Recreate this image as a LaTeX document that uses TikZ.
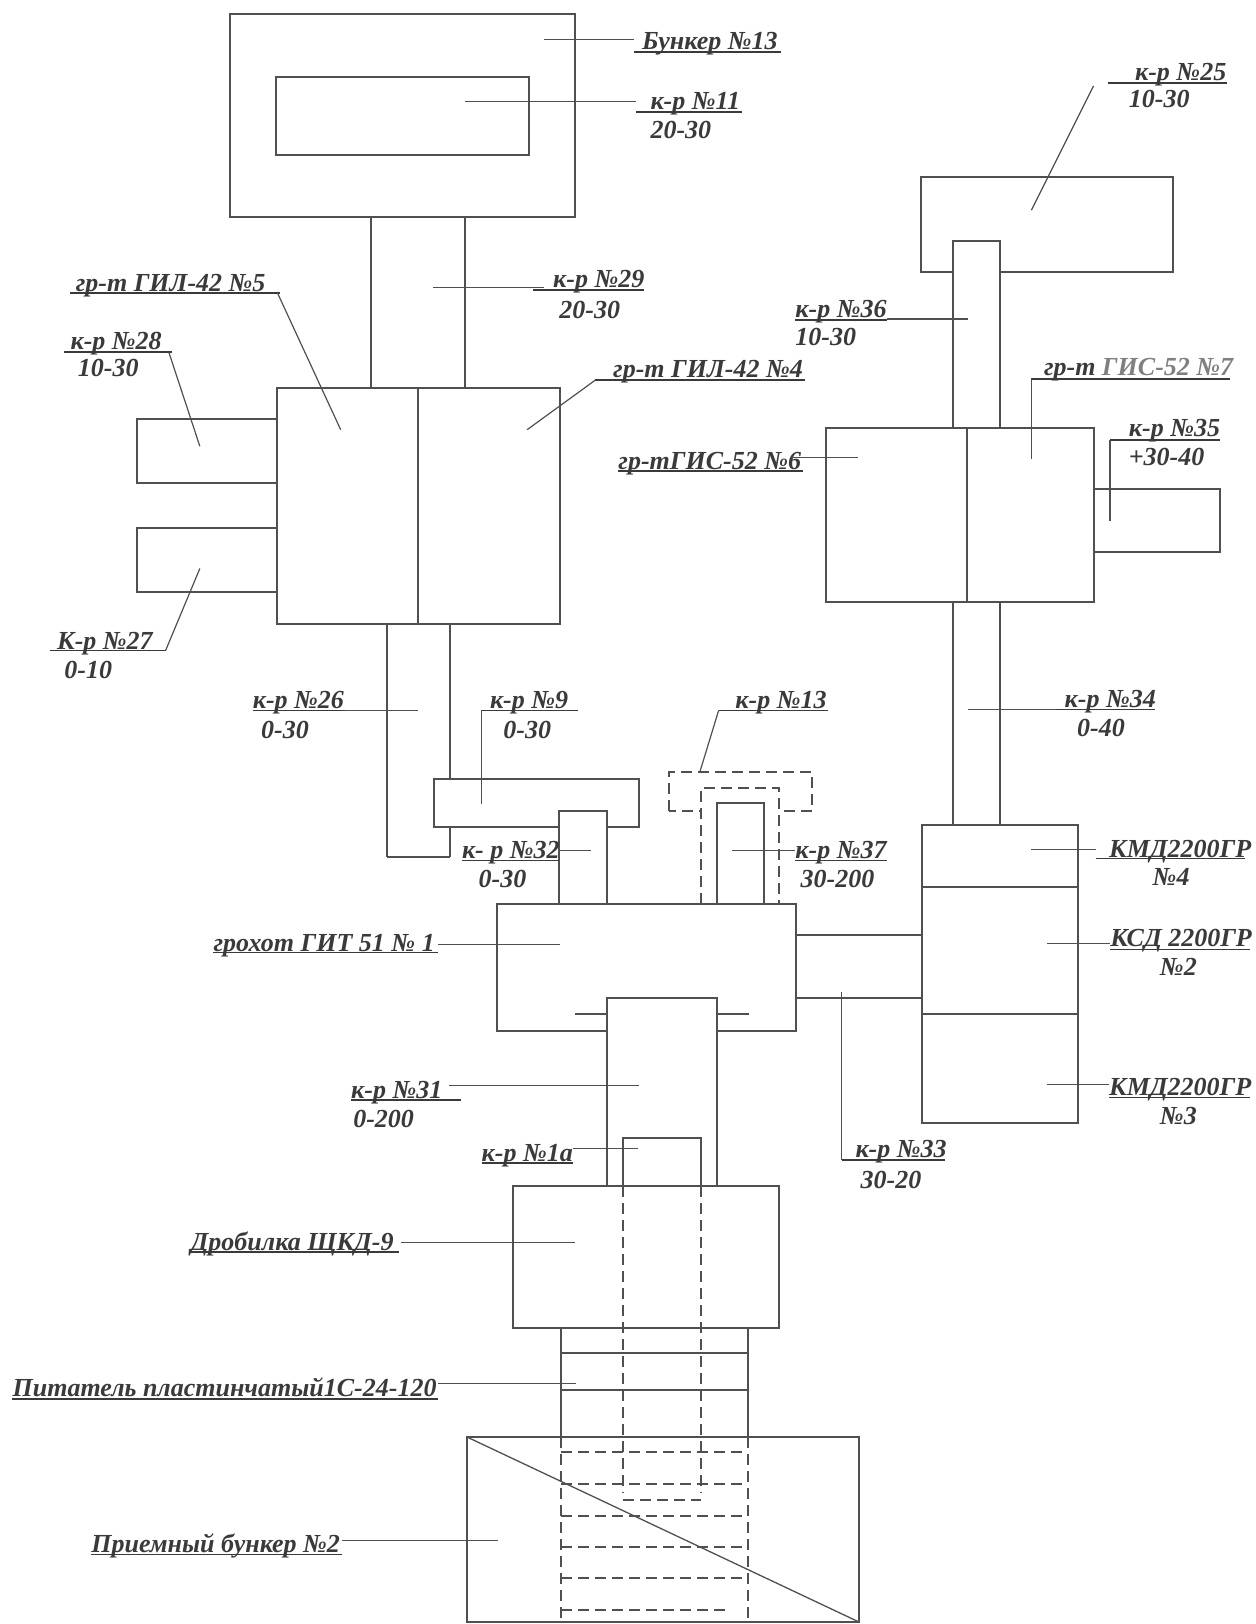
\documentclass[tikz,border=0pt]{standalone}
\usepackage{fontspec}
\setmainfont{Liberation Serif}
\usetikzlibrary{calc}
\definecolor{ink}{HTML}{505050}
\definecolor{txt}{HTML}{3A3A3A}
\tikzset{
 bx/.style={draw=ink,line width=1.3pt,fill=white,inner sep=0,outer sep=0,rectangle},
 lne/.style={draw=ink,line width=1.3pt},
 dsh/.style={draw=ink,line width=1.1pt,dash pattern=on 11pt off 6pt},
 lab/.style={anchor=base west,inner sep=0,yshift=-2pt,text=txt,font=\fontsize{26}{26}\selectfont\bfseries\itshape},
 ldr/.style={draw=ink,line width=1.2pt},
 ul/.style={draw=txt,line width=1.6pt}
}
% box from corner to corner
\newcommand\bxx[5]{\pgfmathsetmacro\bw{#4-#2}\pgfmathsetmacro\bh{#5-#3}%
 \node[bx,anchor=north west,minimum width=\bw pt,minimum height=\bh pt] (#1) at (#2,#3) {};}
% segment between named coordinates
\newcommand\sg[4][lne]{\coordinate (#2a) at #3;\coordinate (#2b) at #4;\draw[#1] (#2a) -- (#2b);}
% label: name, x, baseline, text, underline x1, x2, uy
\newcommand\lb[7]{\node[lab] (#1) at (#2,#3) {#4};\sg[ul]{#1u}{(#5,#7)}{(#6,#7)}}
\newcommand\lbb[4]{\node[lab] (#1) at (#2,#3) {#4};}
\begin{document}
\begin{tikzpicture}[x=1pt,y=-1pt]
\useasboundingbox (0,0) rectangle (1255,1624);
\fill[white] (0,0) rectangle (1255,1624);
% top bunker and conveyor 29
\bxx{bunker}{230}{14}{575}{217}
\bxx{inner}{276}{77}{529}{155}
\sg{c29l}{(371,217)}{(371,388)}
\sg{c29r}{(465,217)}{(465,388)}
% GIL screens
\bxx{boxa}{137}{419}{277}{483}
\bxx{boxb}{137}{528}{277}{592}
\bxx{gil}{277}{388}{560}{624}
\sg{gild}{(418,388)}{(418,624)}
% conveyor 26
\sg{c26l}{(387,624)}{(387,857)}
\sg{c26r}{(450,624)}{(450,857)}
\sg{c26b}{(387,857)}{(450,857)}
\bxx{b9}{434}{779}{639}{827}
\bxx{c32}{559}{811}{607}{904}
% conveyor 13 / 37 dashed
\draw[dsh] (669,811) rectangle (812,772);
\draw[dsh,fill=white] (701,904) -- (701,788) -- (779,788) -- (779,904);
\bxx{c37}{717}{803}{764}{904}
% GIT screen
\bxx{git}{497}{904}{796}{1031}
\sg{tkl}{(575,1014)}{(607,1014)}
\sg{tkr}{(717,1014)}{(749,1014)}
\bxx{c31}{607}{998}{717}{1186}
\sg{lnk}{(796,935)}{(922,935)}
\sg{lnkb}{(796,998)}{(922,998)}
% crushers
\bxx{ksd}{922}{825}{1078}{1123}
\sg{ksa}{(922,887)}{(1078,887)}
\sg{ksb}{(922,1014)}{(1078,1014)}
% right column
\sg{c34l}{(953,602)}{(953,825)}
\sg{c34r}{(1000,602)}{(1000,825)}
\bxx{b35}{1094}{489}{1220}{552}
\bxx{gis}{826}{428}{1094}{602}
\sg{gisd}{(967,428)}{(967,602)}
\bxx{b25}{921}{177}{1173}{272}
\bxx{c36}{953}{241}{1000}{428}
% jaw crusher, feeder, bunker
\bxx{c1a}{623}{1138}{701}{1186}
\bxx{jaw}{513}{1186}{779}{1328}
\sg{fl}{(561,1328)}{(561,1437)}
\sg{fr}{(748,1328)}{(748,1437)}
\sg{fa}{(561,1353)}{(748,1353)}
\sg{fb}{(561,1390)}{(748,1390)}
\bxx{rec}{467}{1437}{859}{1622}
\coordinate (diag1) at (467,1437);\coordinate (diag2) at (859,1622);
\draw[lne] (diag1) -- (diag2);
\sg[dsh]{dv1}{(561,1437)}{(561,1622)}
\sg[dsh]{dv2}{(748,1437)}{(748,1622)}
\sg[dsh]{dh1}{(561,1452)}{(748,1452)}
\sg[dsh]{dh2}{(561,1484)}{(748,1484)}
\sg[dsh]{dh3}{(561,1516)}{(748,1516)}
\sg[dsh]{dh4}{(561,1547)}{(748,1547)}
\sg[dsh]{dh5}{(561,1578)}{(748,1578)}
\sg[dsh]{dh6}{(561,1610)}{(729,1610)}
\draw[dsh] (623,1186) -- (623,1493);
\draw[dsh] (701,1186) -- (701,1493);
\sg[dsh]{d1ab}{(623,1500)}{(701,1500)}
\begin{scope}[x=1.0355pt,y=-1.0355pt]
\lb{t1}{620}{46}{Бункер №13}{612}{754}{50}
\sg[ldr]{l1}{(525,38)}{(612,38)}
\lb{t2}{628}{104}{к-р №11}{614}{717}{108}
\lbb{t2b}{628}{132}{20-30}
\sg[ldr]{l2}{(449,98)}{(614,98)}
\lb{t3}{1096}{76}{к-р №25}{1070}{1185}{80}
\lbb{t3b}{1090}{102}{10-30}
\sg[ldr]{l3}{(1056,83)}{(996,203)}
\lb{t4}{534}{276}{к-р №29}{515}{622}{280}
\lbb{t4b}{540}{306}{20-30}
\sg[ldr]{l4}{(418,278)}{(525,278)}
\lb{t5}{73}{280}{гр-т ГИЛ-42 №5}{68}{270}{283}
\sg[ldr]{l5}{(268,283)}{(329,415)}
\lb{t6}{68}{336}{к-р №28}{62}{166}{340}
\lbb{t6b}{75}{362}{10-30}
\sg[ldr]{l6}{(163,340)}{(193,431)}
\lb{t7}{592}{363}{гр-т ГИЛ-42 №4}{575}{777}{367}
\sg[ldr]{l7}{(575,367)}{(509,415)}
\lb{t8}{768}{305}{к-р №36}{768}{857}{309}
\lbb{t8b}{768}{332}{10-30}
\sg[ldr]{l8}{(857,308)}{(935,308)}
\node[lab] (t9) at (1008,361) {гр-т {\color{gray}ГИС-52 №7}};
\sg[ul]{t9u}{(996,366)}{(1188,366)}
\sg[ldr]{l9}{(996,366)}{(996,443)}
\lb{t10}{1090}{420}{к-р №35}{1072}{1178}{425}
\lbb{t10b}{1090}{448}{+30-40}
\sg[ldr]{l10}{(1072,425)}{(1072,503)}
\lb{t11}{597}{451}{гр-тГИС-52 №6}{597}{775}{455}
\sg[ldr]{l11}{(763,442)}{(829,442)}
\lb{t12}{55}{625}{К-р №27}{48}{160}{628}
\lbb{t12b}{62}{653}{0-10}
\sg[ldr]{l12}{(160,628)}{(193,549)}
\lb{t13}{244}{682}{к-р №26}{244}{333}{686}
\lbb{t13b}{252}{711}{0-30}
\sg[ldr]{l13}{(333,686)}{(404,686)}
\lb{t14}{473}{682}{к-р №9}{465}{558}{686}
\lbb{t14b}{486}{711}{0-30}
\sg[ldr]{l14}{(465,686)}{(465,776)}
\lb{t15}{710}{682}{к-р №13}{694}{800}{686}
\sg[ldr]{l15}{(694,686)}{(676,745)}
\lb{t16}{1028}{681}{к-р №34}{1020}{1115}{685}
\lbb{t16b}{1040}{709}{0-40}
\sg[ldr]{l16}{(935,685)}{(1020,685)}
\lb{t17}{446}{827}{к- р №32}{446}{540}{831}
\lbb{t17b}{462}{855}{0-30}
\sg[ldr]{l17}{(540,821)}{(571,821)}
\lb{t18}{768}{827}{к-р №37}{768}{857}{831}
\lbb{t18b}{773}{855}{30-200}
\sg[ldr]{l18}{(707,821)}{(768,821)}
\lb{t19}{1071}{826}{КМД2200ГР}{1058}{1202}{829}
\lbb{t19b}{1113}{853}{№4}
\sg[ldr]{l19}{(996,820)}{(1058,820)}
\lb{t20}{1072}{912}{КСД 2200ГР}{1072}{1207}{917}
\lbb{t20b}{1120}{940}{№2}
\sg[ldr]{l20}{(1011,911)}{(1072,911)}
\lb{t21}{1071}{1056}{КМД2200ГР}{1071}{1207}{1060}
\lbb{t21b}{1120}{1084}{№3}
\sg[ldr]{l21}{(1011,1047)}{(1071,1047)}
\lb{t22}{206}{917}{грохот ГИТ 51 № 1}{206}{423}{920}
\sg[ldr]{l22}{(423,912)}{(541,912)}
\lb{t23}{339}{1059}{к-р №31}{339}{445}{1062}
\lbb{t23b}{341}{1087}{0-200}
\sg[ldr]{l23}{(434,1048)}{(617,1048)}
\lb{t24}{465}{1120}{к-р №1а}{465}{553}{1123}
\sg[ldr]{l24}{(553,1109)}{(616,1109)}
\lb{t25}{826}{1116}{к-р №33}{813}{913}{1120}
\lbb{t25b}{831}{1146}{30-20}
\sg[ldr]{l25}{(813,1120)}{(813,958)}
\lb{t26}{184}{1206}{Дробилка ЩКД-9}{184}{385}{1209}
\sg[ldr]{l26}{(387,1200)}{(555,1200)}
\lb{t27}{12}{1347}{Питатель пластинчатый1С-24-120}{12}{423}{1351}
\sg[ldr]{l27}{(423,1336)}{(556,1336)}
\lb{t28}{88}{1497}{Приемный бункер №2}{88}{330}{1501}
\sg[ldr]{l28}{(330,1488)}{(481,1488)}
\end{scope}
\end{tikzpicture}
\end{document}
